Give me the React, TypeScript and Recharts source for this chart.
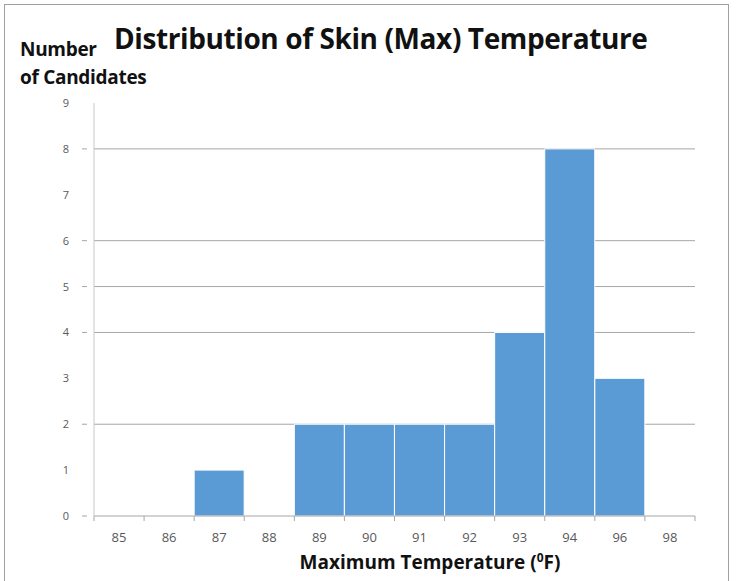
import { BarChart, Bar, XAxis, YAxis, CartesianGrid } from "recharts";

const temps = ["85", "86", "87", "88", "89", "90", "91", "92", "93", "94", "96", "98"];
const candidates = [0, 0, 1, 0, 2, 2, 2, 2, 4, 8, 3, 0];
const yTicks = [0, 1, 2, 3, 4, 5, 6, 7, 8, 9];
const gridValues = [2, 4, 5, 6, 8];

const data = temps.map((t, i) => ({ temp: t, count: candidates[i] }));

const FONT = "'Open Sans', sans-serif";

function XTick(props: any) {
  const { x, y, payload, index, width, visibleTicksCount } = props;
  const band = width && visibleTicksCount ? width / visibleTicksCount : 50;
  const last = index === visibleTicksCount - 1;
  return (
    <g>
      <line x1={x - band / 2} x2={x - band / 2} y1={y - 8} y2={y - 3} stroke="#A6A6A6" />
      {last && <line x1={x + band / 2} x2={x + band / 2} y1={y - 8} y2={y - 3} stroke="#A6A6A6" />}
      <text x={x} y={y + 18} textAnchor="middle" fontSize={13} fill="#595959" fontFamily={FONT}>
        {payload.value}
      </text>
    </g>
  );
}

function YTick(props: any) {
  const { x, y, payload } = props;
  const marked = payload.value === 0 || gridValues.includes(payload.value);
  return (
    <g>
      {marked && <line x1={x - 4} x2={x + 1} y1={y} y2={y} stroke="#A6A6A6" />}
      <text x={x - 17} y={y + 4} textAnchor="end" fontSize={11} fill="#595959" fontFamily={FONT}>
        {payload.value}
      </text>
    </g>
  );
}

export default function App() {
  return (
    <div style={{ position: "absolute", left: 0, top: 0, width: 736, height: 581, background: "#fff", overflow: "hidden" }}>
      <div
        style={{
          position: "absolute",
          left: 4,
          top: 4,
          width: 723,
          height: 600,
          border: "1.5px solid #A0A0A0",
        }}
      />
      <div
        style={{
          position: "absolute",
          left: 114,
          top: 24,
          fontFamily: FONT,
          fontWeight: 700,
          fontSize: 28,
          lineHeight: 1,
          letterSpacing: -0.4,
          color: "#111",
          whiteSpace: "nowrap",
        }}
      >
        Distribution of Skin (Max) Temperature
      </div>
      <div
        style={{
          position: "absolute",
          left: 20,
          top: 35,
          fontFamily: FONT,
          fontWeight: 700,
          fontSize: 19,
          lineHeight: "28px",
          letterSpacing: -0.3,
          color: "#111",
          whiteSpace: "nowrap",
        }}
      >
        Number
        <br />
        of Candidates
      </div>
      <div
        style={{
          position: "absolute",
          left: 0,
          width: 860,
          top: 553,
          textAlign: "center",
          fontFamily: FONT,
          fontWeight: 700,
          fontSize: 19,
          lineHeight: 1,
          color: "#111",
          whiteSpace: "nowrap",
        }}
      >
        Maximum Temperature (<sup style={{ fontSize: 12, lineHeight: 0 }}>0</sup>F)
      </div>
      <BarChart
        width={736}
        height={581}
        data={data}
        margin={{ top: 103, right: 41, left: 0, bottom: 0 }}
        barCategoryGap={0}
        style={{ position: "absolute", left: 0, top: 0 }}
      >
        <CartesianGrid vertical={false} horizontalValues={gridValues} stroke="#A6A6A6" />
        <XAxis
          dataKey="temp"
          height={65}
          stroke="#A6A6A6"
          tickLine={false}
          tick={<XTick />}
          interval={0}
        />
        <YAxis
          width={94}
          domain={[0, 9]}
          ticks={yTicks}
          interval={0}
          stroke="#C8C8C8"
          tickLine={false}
          tick={<YTick />}
        />
        <Bar dataKey="count" fill="#5B9BD5" stroke="#FFFFFF" strokeWidth={1} isAnimationActive={false} />
      </BarChart>
    </div>
  );
}
